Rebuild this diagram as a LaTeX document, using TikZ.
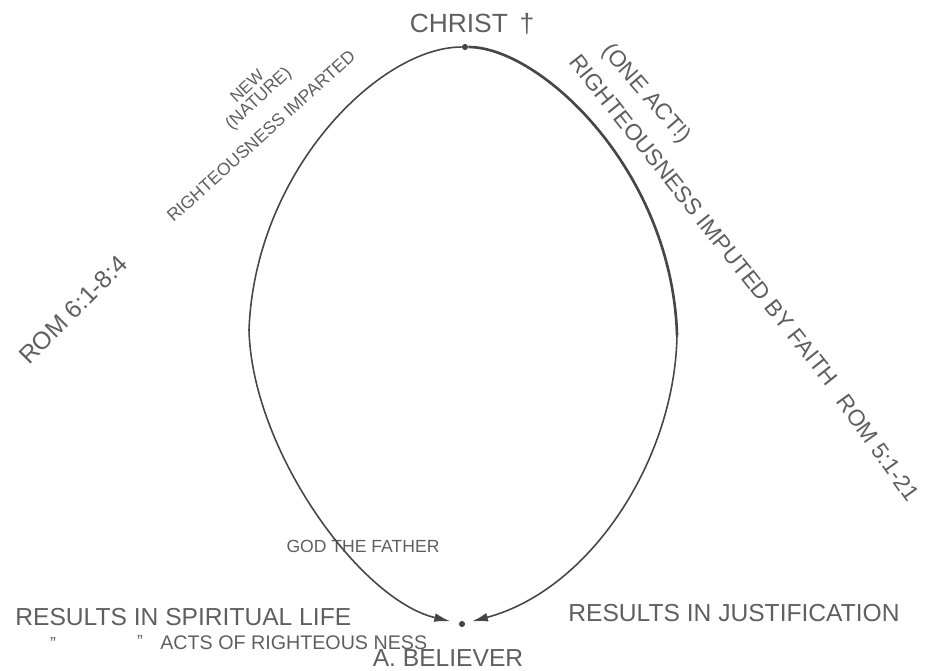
\documentclass[tikz,border=0pt]{standalone}
\usepackage{fontspec}
\setmainfont{Liberation Sans}
\usepackage{tikz}
\usetikzlibrary{arrows.meta}
\definecolor{ink}{RGB}{95,95,95}
\definecolor{pen}{RGB}{70,70,70}

\begin{document}
\begin{tikzpicture}[x=0.2mm,y=-0.2mm,
			lbl/.style={text=ink,inner sep=0pt},
			curve/.style={draw=pen,line width=0.9pt},
			dot/.style={circle,fill=pen,inner sep=0pt,minimum size=3.5pt}]
			\useasboundingbox (0,0) rectangle (925,670);
			\node[dot] (christdot) at (465,47) {};
			\node[dot] (believer) at (462,624) {};
			\coordinate (lside) at (249,330);
			\coordinate (rside) at (677,335);
			\node[lbl,font=\fontsize{15}{17}\selectfont] (christ) at (472,24) {CHRIST \,†};
			\node[lbl,font=\fontsize{9.5}{11}\selectfont,rotate=43] (new) at (247,86) {NEW};
			\node[lbl,font=\fontsize{10}{12}\selectfont,rotate=43] (nature) at (259,99) {(NATURE)};
			\node[lbl,font=\fontsize{10}{12}\selectfont,rotate=42] (imparted) at (261,136) {RIGHTEOUSNESS IMPARTED};
			\node[lbl,font=\fontsize{13}{15}\selectfont,rotate=-49] (oneact) at (646,94) {(ONE ACT!)};
			\node[lbl,font=\fontsize{13}{15}\selectfont,rotate=-51.5] (imputed) at (704,220) {RIGHTEOUSNESS IMPUTED BY FAITH};
			\node[lbl,font=\fontsize{14}{16}\selectfont,rotate=45] (romsix) at (73,310) {ROM 6:1-8:4};
			\node[lbl,font=\fontsize{13}{15}\selectfont,rotate=-54.6] (romfive) at (878,448) {ROM 5:1-21};
			\node[lbl,font=\fontsize{10}{12}\selectfont] (god) at (363,546) {GOD THE FATHER};
			\node[lbl,font=\fontsize{14}{16}\selectfont,anchor=west] (spiritual) at (15,617) {RESULTS IN SPIRITUAL LIFE};
			\node[lbl,font=\fontsize{10}{12}\selectfont] (dittoa) at (53,643) {"};
			\node[lbl,font=\fontsize{10}{12}\selectfont] (dittob) at (140,641) {"};
			\node[lbl,font=\fontsize{11.2}{14}\selectfont,anchor=west] (acts) at (160,643) {ACTS OF RIGHTEOUS NESS};
			\node[lbl,font=\fontsize{14}{16}\selectfont] (believertxt) at (448,658) {A. BELIEVER};
			\node[lbl,font=\fontsize{14}{16}\selectfont,anchor=west] (justif) at (568,613) {RESULTS IN JUSTIFICATION};
			\draw[curve,-{Latex[length=9pt,width=5pt]},shorten >=5pt] (christdot) .. controls (380,47) and (255,170) .. (lside) .. controls (252,450) and (360,600) .. (believer);
			\draw[curve,line width=1.5pt] (christdot) .. controls (540,47) and (672,170) .. (rside);
			\draw[curve,-{Latex[length=9pt,width=5pt]},shorten >=4pt] (rside) .. controls (675,460) and (590,590) .. (believer);
		\end{tikzpicture}
\end{document}
